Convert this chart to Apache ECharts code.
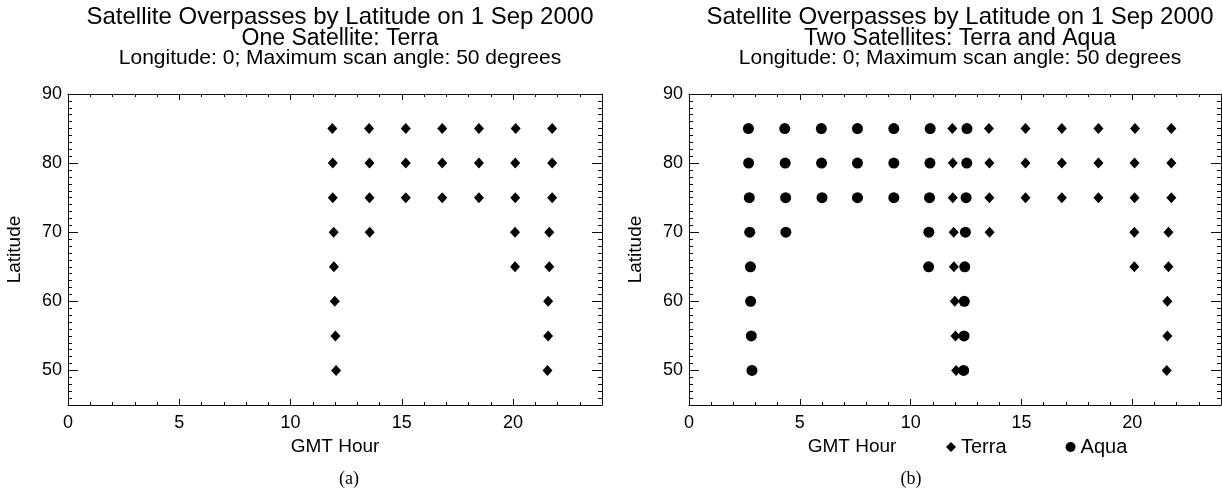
<!DOCTYPE html>
<html>
<head>
<meta charset="utf-8">
<script src="https://cdn.jsdelivr.net/npm/echarts@6/dist/echarts.min.js"></script>
<style>
  html, body { margin: 0; padding: 0; background: #fff; }
  #chart { width: 1222px; height: 488px; }
</style>
</head>
<body>
<div id="chart"></div>
<script>
// latitude rows, top to bottom
var latitudes = [85, 80, 75, 70, 65, 60, 55, 50];

// GMT hour of each overpass, one row per latitude
var terraHours = [
    [11.88, 13.53, 15.18, 16.82, 18.47, 20.12, 21.76],
    [11.90, 13.55, 15.18, 16.82, 18.47, 20.10, 21.76],
    [11.90, 13.55, 15.18, 16.82, 18.47, 20.10, 21.76],
    [11.94, 13.56, 20.09, 21.63],
    [11.95, 20.09, 21.63],
    [11.99, 21.58],
    [12.02, 21.58],
    [12.05, 21.55]
];
var aquaHours = [
    [2.68, 4.32, 5.97, 7.60, 9.24, 10.88, 12.54],
    [2.69, 4.34, 5.98, 7.60, 9.24, 10.87, 12.53],
    [2.72, 4.36, 6.00, 7.60, 9.24, 10.85, 12.50],
    [2.74, 4.37, 10.82, 12.47],
    [2.77, 10.81, 12.44],
    [2.78, 12.42],
    [2.81, 12.41],
    [2.84, 12.39]
];

var hourTicks = [0, 5, 10, 15, 20];
var latTicks = [50, 60, 70, 80, 90];

var titleLine1 = 'Satellite Overpasses by Latitude on 1 Sep 2000';
var titleLine2 = ['One Satellite: Terra', 'Two Satellites: Terra and Aqua'];
var titleLine3 = 'Longitude: 0; Maximum scan angle: 50 degrees';

var FONT = 'Liberation Sans, Arial, Helvetica, sans-serif';
var lineStyle = { color: '#111', width: 1 };

function toPoints(rows) {
    var out = [];
    rows.forEach(function (row, i) {
        row.forEach(function (h) { out.push([h, latitudes[i]]); });
    });
    return out;
}

// four x axes per grid: bottom minor/major, top minor/major
function makeXAxes(gi, withName) {
    var base = { gridIndex: gi, type: 'value', min: 0, max: 24, interval: 1, splitLine: { show: false } };
    return [
        Object.assign({}, base, {
            position: 'bottom',
            axisLine: { show: true, onZero: false, lineStyle: lineStyle },
            axisTick: { inside: true, length: 3, lineStyle: lineStyle },
            axisLabel: { show: false }
        }),
        Object.assign({}, base, {
            position: 'bottom',
            axisLine: { show: false, onZero: false },
            axisTick: { inside: true, length: 6, lineStyle: lineStyle, customValues: hourTicks },
            axisLabel: { customValues: hourTicks, color: '#000', fontSize: 18, fontFamily: FONT, margin: 9 },
            name: withName ? 'GMT Hour' : '',
            nameLocation: 'middle',
            nameGap: 32,
            nameTextStyle: { color: '#000', fontSize: 19, fontFamily: FONT }
        }),
        Object.assign({}, base, {
            position: 'top',
            axisLine: { show: true, onZero: false, lineStyle: lineStyle },
            axisTick: { inside: true, length: 3, lineStyle: lineStyle },
            axisLabel: { show: false }
        }),
        Object.assign({}, base, {
            position: 'top',
            axisLine: { show: false, onZero: false },
            axisTick: { inside: true, length: 6, lineStyle: lineStyle, customValues: hourTicks },
            axisLabel: { show: false }
        })
    ];
}

// four y axes per grid: left minor/major, right minor/major
function makeYAxes(gi) {
    var base = { gridIndex: gi, type: 'value', min: 45, max: 90, interval: 1, splitLine: { show: false } };
    return [
        Object.assign({}, base, {
            position: 'left',
            axisLine: { show: true, onZero: false, lineStyle: lineStyle },
            axisTick: { inside: true, length: 4, lineStyle: lineStyle },
            axisLabel: { show: false }
        }),
        Object.assign({}, base, {
            position: 'left',
            axisLine: { show: false, onZero: false },
            axisTick: { inside: true, length: 10, lineStyle: lineStyle, customValues: latTicks },
            axisLabel: { customValues: latTicks, color: '#000', fontSize: 18, fontFamily: FONT, margin: 6 },
            name: 'Latitude',
            nameLocation: 'middle',
            nameGap: 44,
            nameTextStyle: { color: '#000', fontSize: 19, fontFamily: FONT }
        }),
        Object.assign({}, base, {
            position: 'right',
            axisLine: { show: true, onZero: false, lineStyle: lineStyle },
            axisTick: { inside: true, length: 4, lineStyle: lineStyle },
            axisLabel: { show: false }
        }),
        Object.assign({}, base, {
            position: 'right',
            axisLine: { show: false, onZero: false },
            axisTick: { inside: true, length: 10, lineStyle: lineStyle, customValues: latTicks },
            axisLabel: { show: false }
        })
    ];
}

function titleBlock(cx, line2, captionX, caption) {
    return [
        { text: titleLine1, left: cx, top: 0, textAlign: 'center',
          textStyle: { fontSize: 24, fontWeight: 'normal', color: '#000', fontFamily: FONT } },
        { text: line2, left: cx, top: 22, textAlign: 'center',
          textStyle: { fontSize: 23, fontWeight: 'normal', color: '#000', fontFamily: FONT } },
        { text: titleLine3, left: cx, top: 43, textAlign: 'center',
          textStyle: { fontSize: 21, fontWeight: 'normal', color: '#000', fontFamily: FONT } },
        { text: caption, left: captionX, top: 465, textAlign: 'center',
          textStyle: { fontSize: 18, fontWeight: 'normal', color: '#000', fontFamily: 'Liberation Serif, Times New Roman, serif' } }
    ];
}

var chart = echarts.init(document.getElementById('chart'));

var titles = titleBlock(335, titleLine2[0], 344, '(a)').concat(titleBlock(955, titleLine2[1], 906, '(b)'));
// x-axis name of the right panel sits left of the legend
titles.push({ text: 'GMT Hour', left: 847, top: 432, textAlign: 'center',
    textStyle: { fontSize: 19, fontWeight: 'normal', color: '#000', fontFamily: FONT } });

var option = {
    animation: false,
    backgroundColor: '#fff',
    title: titles,
    grid: [
        { left: 68, top: 94, width: 534, height: 311 },
        { left: 689, top: 94, width: 532, height: 311 }
    ],
    xAxis: makeXAxes(0, true).concat(makeXAxes(1, false)),
    yAxis: makeYAxes(0).concat(makeYAxes(1)),
    legend: {
        data: ['Terra', 'Aqua'],
        left: 941,
        top: 432,
        itemWidth: 10,
        itemHeight: 10,
        itemGap: 59,
        textStyle: { fontSize: 20, color: '#000', fontFamily: FONT }
    },
    series: [
        {
            name: 'Terra', type: 'scatter', xAxisIndex: 0, yAxisIndex: 0,
            symbol: 'diamond', symbolSize: [10, 11],
            itemStyle: { color: '#000', opacity: 1 },
            data: toPoints(terraHours)
        },
        {
            name: 'Terra', type: 'scatter', xAxisIndex: 4, yAxisIndex: 4,
            symbol: 'diamond', symbolSize: [10, 11],
            itemStyle: { color: '#000', opacity: 1 },
            data: toPoints(terraHours)
        },
        {
            name: 'Aqua', type: 'scatter', xAxisIndex: 4, yAxisIndex: 4,
            symbol: 'circle', symbolSize: 11,
            itemStyle: { color: '#000', opacity: 1 },
            data: toPoints(aquaHours)
        }
    ]
};

chart.setOption(option);
</script>
</body>
</html>
